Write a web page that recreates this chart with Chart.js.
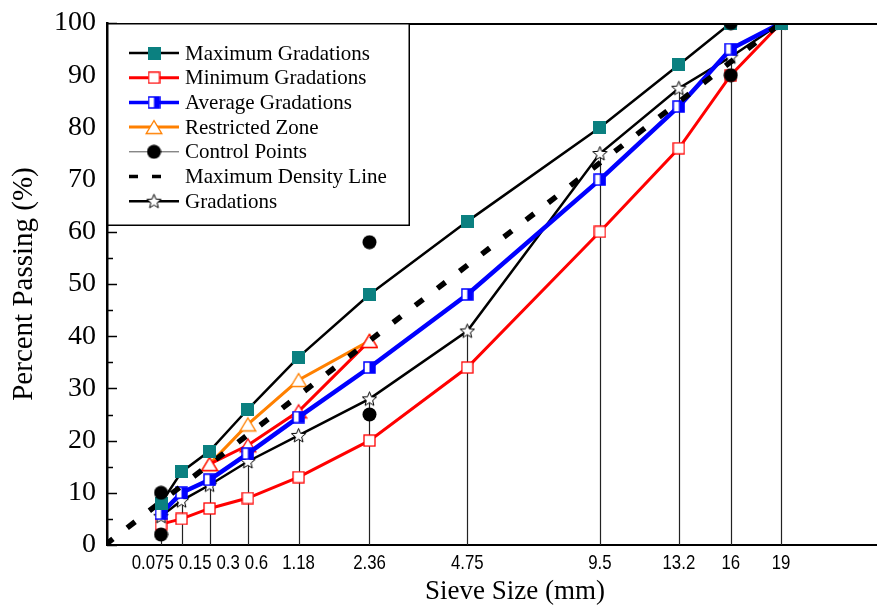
<!DOCTYPE html>
<html>
<head>
<meta charset="utf-8">
<script src="https://cdn.jsdelivr.net/npm/chart.js@4.4.1/dist/chart.umd.min.js"></script>
<style>
  html, body { margin: 0; padding: 0; background: #fff; overflow: hidden; }
  #wrap { width: 877px; height: 607px; }
</style>
</head>
<body>
<div id="wrap"><canvas id="gradation" width="877" height="607"></canvas></div>
<script>
// sieve sizes (mm) and their tick labels
var sieves = [0.075, 0.15, 0.3, 0.6, 1.18, 2.36, 4.75, 9.5, 13.2, 16, 19];
var sieveLabels = ["0.075", "0.15", "0.3", "0.6", "1.18", "2.36", "4.75", "9.5", "13.2", "16", "19"];

// percent passing per sieve
var maxGrad = [8, 14, 18, 26, 36, 48, 62, 80, 92, 100, 100];
var minGrad = [4, 5, 7, 9, 13, 20, 34, 60, 76, 90, 100];
var avgGrad = [6, 10, 12.5, 17.5, 24.5, 34, 48, 70, 84, 95, 100];
var gradations = [5.5, 8.5, 11.5, 16, 21, 28, 41, 75, 87.5, 93.5, 100];

// restricted zone (upper / lower boundary)
var rzSieves = [0.3, 0.6, 1.18, 2.36];
var rzUpper = [15.5, 23.1, 31.6, 39.1];
var rzLower = [15.5, 19.1, 25.6, 39.1];

// control points
var cpSieves = [0.075, 0.075, 2.36, 2.36, 16, 16];
var cpPass = [2, 10, 25, 58, 90, 100];

// maximum density line
var mdlSieves = [0, 19];
var mdlPass = [0, 100];

var yTickStep = 10;

var SERIF = "'Liberation Serif', 'Times New Roman', serif";
var SANS = "'Liberation Sans', Arial, sans-serif";

// 0.45 power chart
function pw(s) { return Math.pow(s, 0.45); }
function pts(xs, ys) {
  return xs.map(function (s, i) { return {x: pw(s), y: ys[i]}; });
}

// marker images
function marker(size, draw) {
  var c = document.createElement("canvas");
  c.width = size; c.height = size;
  draw(c.getContext("2d"), size);
  return c;
}
var tealSquare = marker(13, function (ctx, s) {
  ctx.fillStyle = "#0b8080";
  ctx.fillRect(0, 0, s, s);
});
var redSquare = marker(13, function (ctx, s) {
  ctx.fillStyle = "#fff";
  ctx.fillRect(1, 1, s - 2, s - 2);
  ctx.strokeStyle = "#ff0000";
  ctx.lineWidth = 1.3;
  ctx.strokeRect(1, 1, s - 2, s - 2);
});
var halfSquare = marker(13, function (ctx, s) {
  ctx.fillStyle = "#fff";
  ctx.fillRect(1, 1, s - 2, s - 2);
  ctx.fillStyle = "#0000ff";
  ctx.fillRect(s / 2, 1, s / 2 - 1, s - 2);
  ctx.strokeStyle = "#0000ff";
  ctx.lineWidth = 1.5;
  ctx.strokeRect(1, 1, s - 2, s - 2);
});
function triangle(color) {
  return marker(18, function (ctx) {
    ctx.beginPath();
    ctx.moveTo(9, 2.5);
    ctx.lineTo(1.2, 15.5);
    ctx.lineTo(16.8, 15.5);
    ctx.closePath();
    ctx.fillStyle = "#fff";
    ctx.fill();
    ctx.strokeStyle = color;
    ctx.lineWidth = 1.4;
    ctx.stroke();
  });
}
var dot = marker(15, function (ctx) {
  ctx.beginPath();
  ctx.arc(7.5, 7.5, 7, 0, Math.PI * 2);
  ctx.fillStyle = "#000";
  ctx.fill();
});
var star = marker(17, function (ctx) {
  ctx.beginPath();
  for (var k = 0; k < 10; k++) {
    var r = k % 2 ? 3.3 : 7.5;
    var a = -Math.PI / 2 + k * Math.PI / 5;
    ctx.lineTo(8.5 + r * Math.cos(a), 9 + r * Math.sin(a));
  }
  ctx.closePath();
  ctx.fillStyle = "#fff";
  ctx.fill();
  ctx.strokeStyle = "#000";
  ctx.lineWidth = 1;
  ctx.stroke();
});

var datasets = [
  {label: "Maximum Gradations", data: pts(sieves, maxGrad), borderColor: "#000", borderWidth: 2.5,
   pointStyle: tealSquare, order: 2},
  {label: "Minimum Gradations", data: pts(sieves, minGrad), borderColor: "#ff0000", borderWidth: 3,
   pointStyle: redSquare, order: 5},
  {label: "Average Gradations", data: pts(sieves, avgGrad), borderColor: "#0000ff", borderWidth: 4.5,
   pointStyle: halfSquare, order: 3},
  {label: "Restricted Zone", data: pts(rzSieves, rzUpper), borderColor: "#ff8000", borderWidth: 3,
   pointStyle: triangle("#ff8000"), order: 7},
  {label: "Control Points", data: pts(cpSieves, cpPass), borderColor: "#555", borderWidth: 1,
   showLine: false, pointStyle: dot, order: 1},
  {label: "Maximum Density Line", data: pts(mdlSieves, mdlPass), borderColor: "#000", borderWidth: 5.5,
   borderDash: [10, 18], pointRadius: 0, order: 2.5},
  {label: "Gradations", data: pts(sieves, gradations), borderColor: "#000", borderWidth: 2.5,
   pointStyle: star, order: 4},
  {label: "", data: pts(rzSieves, rzLower), borderColor: "#ff0000", borderWidth: 3,
   pointStyle: triangle("#ff0000"), order: 6}
];
var legendItems = [0, 1, 2, 3, 4, 5, 6];
var dropLineSet = 6;

// spread crowded x labels apart; each cluster is centred on the mean of its ticks
function spread(items, gap) {
  var clusters = items.map(function (it) { return {items: [it], left: it.c - it.w / 2, width: it.w}; });
  var merged = true;
  while (merged) {
    merged = false;
    for (var i = 1; i < clusters.length; i++) {
      var a = clusters[i - 1], b = clusters[i];
      if (a.left + a.width + gap > b.left) {
        var all = a.items.concat(b.items), width = -gap, mean = 0;
        all.forEach(function (it) { width += it.w + gap; mean += it.c / all.length; });
        clusters.splice(i - 1, 2, {items: all, left: mean - width / 2, width: width});
        merged = true;
        break;
      }
    }
  }
  clusters.forEach(function (cl) {
    var x = cl.left;
    cl.items.forEach(function (it) { it.x = x; x += it.w + gap; });
  });
}

var frame = {
  id: "frame",
  beforeDatasetsDraw: function (chart) {
    var ctx = chart.ctx, area = chart.chartArea;
    ctx.save();
    ctx.strokeStyle = "#222";
    ctx.lineWidth = 1.2;
    chart.getDatasetMeta(dropLineSet).data.forEach(function (el) {
      ctx.beginPath();
      ctx.moveTo(Math.round(el.x) + 0.5, el.y);
      ctx.lineTo(Math.round(el.x) + 0.5, area.bottom);
      ctx.stroke();
    });
    ctx.restore();
  },
  afterDraw: function (chart) {
    var ctx = chart.ctx, area = chart.chartArea;
    var xs = chart.scales.x, ys = chart.scales.y;
    ctx.save();

    // top frame line
    ctx.strokeStyle = "#000";
    ctx.lineWidth = 2;
    ctx.beginPath();
    ctx.moveTo(area.left, area.top + 1);
    ctx.lineTo(area.right, area.top + 1);
    ctx.stroke();

    // inward ticks on the y axis
    ctx.lineWidth = 1.5;
    for (var v = ys.min; v <= ys.max; v += yTickStep / 2) {
      var py = Math.round(ys.getPixelForValue(v)) + 0.5;
      var len = v % yTickStep === 0 ? 10 : 6;
      ctx.beginPath();
      ctx.moveTo(area.left, py);
      ctx.lineTo(area.left + len, py);
      ctx.stroke();
    }

    // x tick labels, condensed like the original narrow face
    var squeeze = 0.8;
    ctx.font = "21px " + SANS;
    ctx.fillStyle = "#000";
    ctx.textBaseline = "middle";
    ctx.textAlign = "left";
    var items = xs.ticks.map(function (t, i) {
      return {text: sieveLabels[i], c: xs.getPixelForValue(t.value),
              w: ctx.measureText(sieveLabels[i]).width * squeeze};
    });
    spread(items, 5);
    items.forEach(function (it) {
      ctx.save();
      ctx.translate(it.x, area.bottom + 18);
      ctx.scale(squeeze, 1);
      ctx.fillText(it.text, 0, 0);
      ctx.restore();
    });

    // x title
    ctx.font = "27px " + SERIF;
    ctx.textAlign = "center";
    ctx.fillText("Sieve Size (mm)", 515, 592);

    // legend
    var bx = area.left, by = area.top, bw = 303, bh = 203;
    ctx.fillStyle = "#fff";
    ctx.fillRect(bx, by, bw, bh);
    ctx.strokeStyle = "#000";
    ctx.lineWidth = 1.5;
    ctx.strokeRect(bx + 0.75, by + 0.75, bw - 1.5, bh - 1.5);
    ctx.font = "21px " + SERIF;
    ctx.textAlign = "left";
    legendItems.forEach(function (di, k) {
      var ds = chart.data.datasets[di];
      var ry = by + 30 + k * 24.7;
      ctx.save();
      ctx.strokeStyle = ds.borderColor;
      ctx.lineWidth = Math.min(ds.borderWidth, 3.5);
      ctx.setLineDash(ds.borderDash ? [9, 14] : []);
      ctx.beginPath();
      ctx.moveTo(129, ry);
      ctx.lineTo(ds.borderDash ? 162 : 179, ry);
      ctx.stroke();
      ctx.restore();
      if (ds.pointStyle) {
        var img = ds.pointStyle;
        ctx.drawImage(img, 154 - img.width / 2, ry - img.height / 2);
      }
      ctx.fillStyle = "#000";
      ctx.fillText(ds.label, 185, ry + 1);
    });
    ctx.restore();
  }
};

Chart.defaults.font.family = SERIF;
Chart.defaults.color = "#000";

new Chart("gradation", {
  type: "line",
  data: {datasets: datasets},
  options: {
    responsive: false,
    animation: false,
    devicePixelRatio: 1,
    layout: {autoPadding: false, padding: {top: 23, right: 0, bottom: 0, left: 0}},
    elements: {
      point: {radius: 7, hoverRadius: 7},
      line: {tension: 0, fill: false}
    },
    plugins: {legend: {display: false}, tooltip: {enabled: false}},
    scales: {
      x: {
        type: "linear",
        min: 0.011,
        max: 4.296,
        grid: {display: false, drawTicks: false},
        border: {display: true, color: "#000", width: 2},
        afterBuildTicks: function (scale) {
          scale.ticks = sieves.map(function (s) { return {value: pw(s)}; });
        },
        ticks: {display: false},
        afterFit: function (scale) {
          scale.height = 62;
          scale.paddingLeft = 0;
          scale.paddingRight = 0;
        }
      },
      y: {
        type: "linear",
        min: 0,
        max: 100,
        grid: {display: false, drawTicks: false},
        border: {display: true, color: "#000", width: 2.5},
        ticks: {stepSize: yTickStep, padding: 11, color: "#000", font: {family: SERIF, size: 28}},
        title: {display: true, text: "Percent Passing (%)", color: "#000",
                font: {family: SERIF, size: 29, lineHeight: 1}, padding: {top: 10}},
        afterFit: function (scale) {
          scale.width = 107;
          scale.paddingTop = 0;
          scale.paddingBottom = 0;
        }
      }
    }
  },
  plugins: [frame]
});
</script>
</body>
</html>
